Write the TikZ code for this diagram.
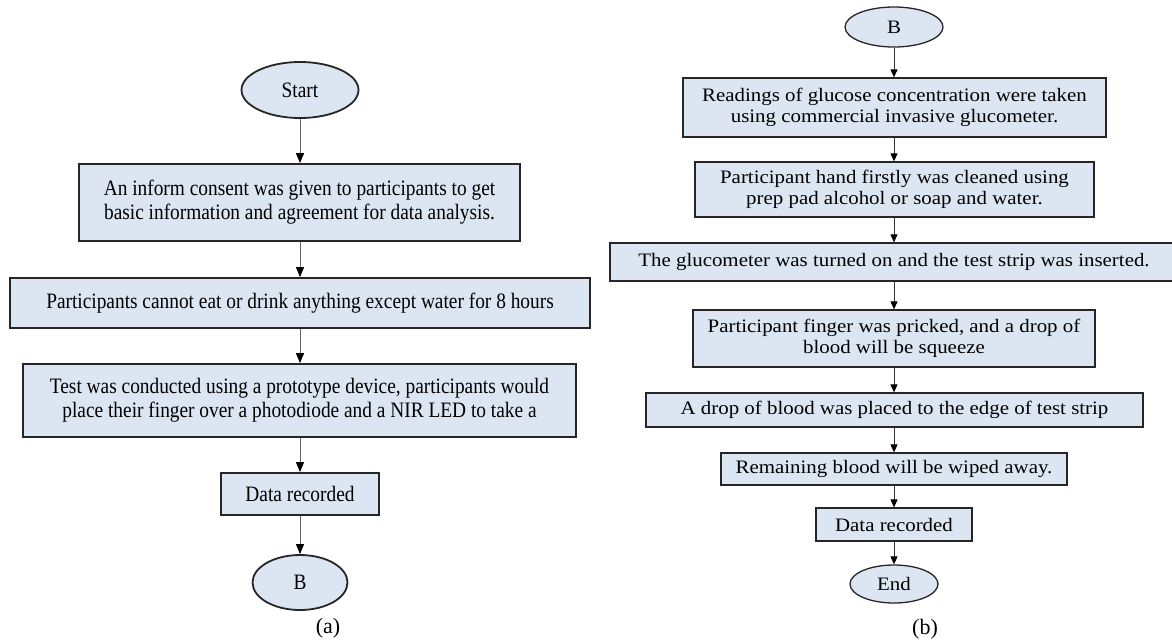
\documentclass[tikz,border=0pt]{standalone}
\usepackage{fontspec}
\setmainfont{Liberation Serif}
\newfontfamily\narrowserif[FakeStretch=0.88]{Liberation Serif}
\newfontfamily\wideserif[FakeStretch=1.1]{Liberation Serif}
\usetikzlibrary{shapes.geometric,arrows.meta}
\definecolor{boxblue}{RGB}{220,230,242}

\begin{document}
\begin{tikzpicture}[x=1pt, y=-1pt,
    lbox/.style={draw=black!85, line width=1.8pt, fill=boxblue, inner sep=0pt,
        align=center, font=\narrowserif\fontsize{22}{24}\selectfont},
    lterm/.style={lbox, ellipse},
    rbox/.style={draw=black!85, line width=1.3pt, fill=boxblue, inner sep=0pt,
        align=center, font=\wideserif\fontsize{19}{21}\selectfont},
    rterm/.style={rbox, ellipse},
    larrow/.style={draw=black!60, line width=1pt, -{Triangle[length=10pt,width=8pt,color=black]}},
    rarrow/.style={draw=black!80, line width=0.9pt, -{Triangle[length=8pt,width=7pt,color=black]}}]
    \useasboundingbox (0,0) rectangle (1172,641);

    % Bagian (a)
    \node[lterm, minimum width=117pt, minimum height=56pt] (start) at (300,90) {Start};
    \node[lbox, minimum width=441pt, minimum height=77pt] (consent) at (299.5,202.5)
        {An inform consent was given to participants to get\\basic information and agreement for data analysis.};
    \node[lbox, minimum width=580pt, minimum height=50pt] (fasting) at (300,303)
        {Participants cannot eat or drink anything except water for 8 hours};
    \node[lbox, minimum width=553pt, minimum height=73pt] (test) at (299.5,400.5)
        {Test was conducted using a prototype device, participants would\\place their finger over a photodiode and a NIR LED to take a};
    \node[lbox, minimum width=158pt, minimum height=42pt] (dataa) at (300,494)
        {Data recorded};
    \node[lterm, minimum width=95pt, minimum height=55pt] (ba) at (300,582.5) {B};
    \node[font=\fontsize{22}{24}\selectfont] (capa) at (328,628) {(a)};

    \draw[larrow] (start.south) -- (start.south |- consent.north);
    \draw[larrow] (consent.south -| fasting.north) -- (fasting.north);
    \draw[larrow] (fasting.south) -- (fasting.south |- test.north);
    \draw[larrow] (test.south -| dataa.north) -- (dataa.north);
    \draw[larrow] (dataa.south) -- (ba.north);

    % Bagian (b)
    \node[rterm, minimum width=98pt, minimum height=40pt] (bb) at (894,27) {B};
    \node[rbox, minimum width=423pt, minimum height=59pt] (reading) at (894.5,107.5)
        {Readings of glucose concentration were taken\\using commercial invasive glucometer.};
    \node[rbox, minimum width=399pt, minimum height=55pt] (clean) at (894.5,189.5)
        {Participant hand firstly was cleaned using\\prep pad alcohol or soap and water.};
    \node[rbox, minimum width=568pt, minimum height=38pt] (strip) at (894,262)
        {The glucometer was turned on and the test strip was inserted.};
    \node[rbox, minimum width=402pt, minimum height=57pt] (prick) at (894,338.5)
        {Participant finger was pricked, and a drop of\\blood will be squeeze};
    \node[rbox, minimum width=497pt, minimum height=34pt] (drop) at (894.5,410)
        {A drop of blood was placed to the edge of test strip};
    \node[rbox, minimum width=346pt, minimum height=32pt] (wipe) at (894,469)
        {Remaining blood will be wiped away.};
    \node[rbox, minimum width=156pt, minimum height=33pt] (datab) at (894,524.5)
        {Data recorded};
    \node[rterm, minimum width=88pt, minimum height=38pt] (end) at (894,584) {End};
    \node[font=\fontsize{22}{24}\selectfont] (capb) at (925,629) {(b)};

    \draw[rarrow] (bb.south) -- (bb.south |- reading.north);
    \draw[rarrow] (reading.south -| bb.south) -- (bb.south |- clean.north);
    \draw[rarrow] (clean.south -| bb.south) -- (bb.south |- strip.north);
    \draw[rarrow] (strip.south -| bb.south) -- (bb.south |- prick.north);
    \draw[rarrow] (prick.south -| bb.south) -- (bb.south |- drop.north);
    \draw[rarrow] (drop.south -| bb.south) -- (bb.south |- wipe.north);
    \draw[rarrow] (wipe.south -| bb.south) -- (bb.south |- datab.north);
    \draw[rarrow] (datab.south -| bb.south) -- (bb.south |- end.north);
\end{tikzpicture}
\end{document}
